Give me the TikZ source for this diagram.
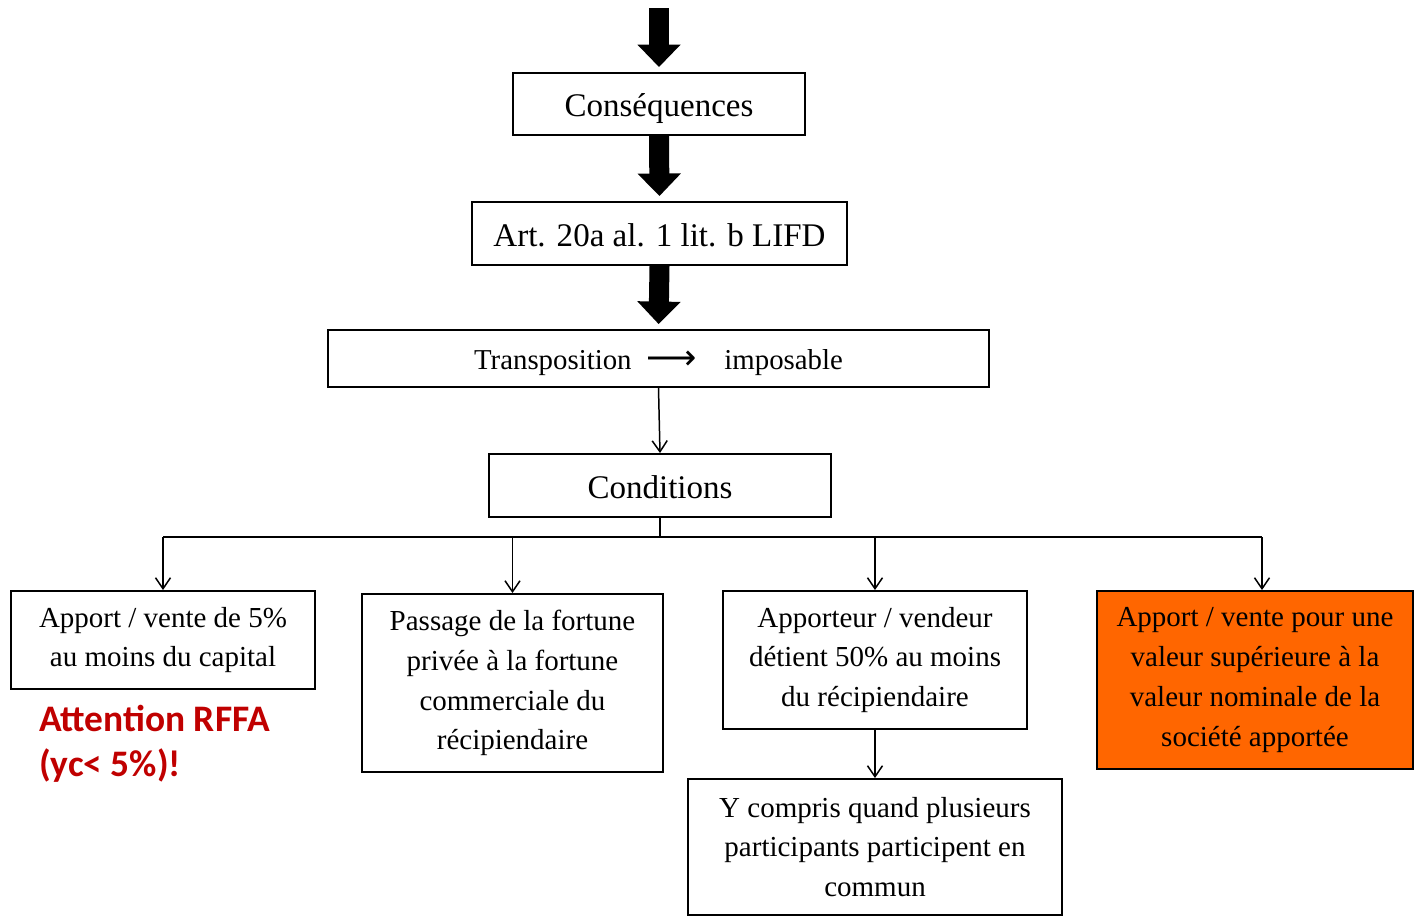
\documentclass[tikz,border=0pt]{standalone}
\usepackage{fontspec}
\setmainfont{Liberation Serif}
\newfontfamily\alertfont{Carlito}
\newfontfamily\arrowfont{DejaVu Sans}
\usetikzlibrary{arrows.meta}
\definecolor{alertred}{HTML}{C00000}
\definecolor{keyorange}{HTML}{FF6600}

\begin{document}
\begin{tikzpicture}[
                x=0.02cm, y=-0.02cm,
                >={Straight Barb[length=0.22cm, width=0.3cm]},
                box/.style={draw, line width=1.1pt, inner sep=0pt, align=center,
                font=\fontsize{16.5}{22.7}\selectfont},
                titlebox/.style={box, font=\fontsize{18.8}{22}\selectfont, text height=0.62cm, text depth=0.1cm},
                keyarrow/.style={line width=0.4cm, -{Triangle[length=0.45cm, width=0.84cm]},
                shorten >=0.1cm},
                linkarrow/.style={->, line width=0.85pt},
                busline/.style={line width=0.85pt},
                warnlabel/.style={font=\alertfont\bfseries\fontsize{21.3}{25.5}\selectfont,
                text=alertred, align=left, anchor=west},
                ]

                % ── Frame: same proportions as the page ──
                \useasboundingbox (0,0) rectangle (1414,916);

                % ── Main chain ──
                \coordinate (start) at (659,8);
                \node[titlebox, minimum width=5.84cm, minimum height=1.24cm] (cons) at (659,104) {Conséquences};
                \node[titlebox, minimum width=7.5cm, minimum height=1.26cm] (art) at (659.5,233.5) {Art. 20a al. 1 lit. b LIFD};
                \node[box, minimum width=13.22cm, minimum height=1.14cm, font=\fontsize{16.4}{20}\selectfont,
                    text height=0.52cm, text depth=0.1cm] (trans) at (658.5,358.5)
                    {Transposition\hspace{0.3cm}{\arrowfont\fontsize{20}{20}\selectfont ⟶}\hspace{0.55cm}imposable};
                \node[titlebox, minimum width=6.84cm, minimum height=1.26cm] (cond) at (660,485.5) {Conditions};

                \draw[keyarrow] (start) -- (cons.north);
                \draw[keyarrow] (cons.south) -- (art.north);
                \draw[keyarrow] (art.south) -- (trans.north);
                \draw[linkarrow] (trans.south) -- (cond.north);

                % ── Conditions (4 columns) ──
                \node[box, minimum width=6.08cm, minimum height=1.96cm] (c1) at (163,640)
                    {Apport / vente de 5\%\\au moins du capital};
                \node[box, minimum width=6.02cm, minimum height=3.56cm] (c2) at (512.5,683)
                    {Passage de la fortune\\privée à la fortune\\commerciale du\\récipiendaire};
                \node[box, minimum width=6.08cm, minimum height=2.76cm] (c3) at (875,660)
                    {Apporteur / vendeur\\détient 50\% au moins\\du récipiendaire};
                \node[box, fill=keyorange, minimum width=6.32cm, minimum height=3.56cm] (c4) at (1255,680)
                    {Apport / vente pour une\\valeur supérieure à la\\valeur nominale de la\\société apportée};
                \node[box, minimum width=7.48cm, minimum height=2.72cm] (c5) at (875,847)
                    {Y compris quand plusieurs\\participants participent en\\commun};

                \node[warnlabel] (warn) at (33,744) {Attention RFFA\\(yc< 5\%)!};

                % ── Bus from Conditions ──
                \coordinate (busL) at (163,537);
                \coordinate (busR) at (1262,537);
                \draw[busline] (cond.south) -- (cond.south |- busL);
                \draw[busline] (busL) -- (busR);
                \draw[linkarrow] (busL) -- (c1.north);
                \draw[linkarrow] (c2.north |- busL) -- (c2.north);
                \draw[linkarrow] (c3.north |- busL) -- (c3.north);
                \draw[linkarrow] (busR) -- (busR |- c4.north);
                \draw[linkarrow] (c3.south) -- (c5.north);

\end{tikzpicture}
\end{document}
